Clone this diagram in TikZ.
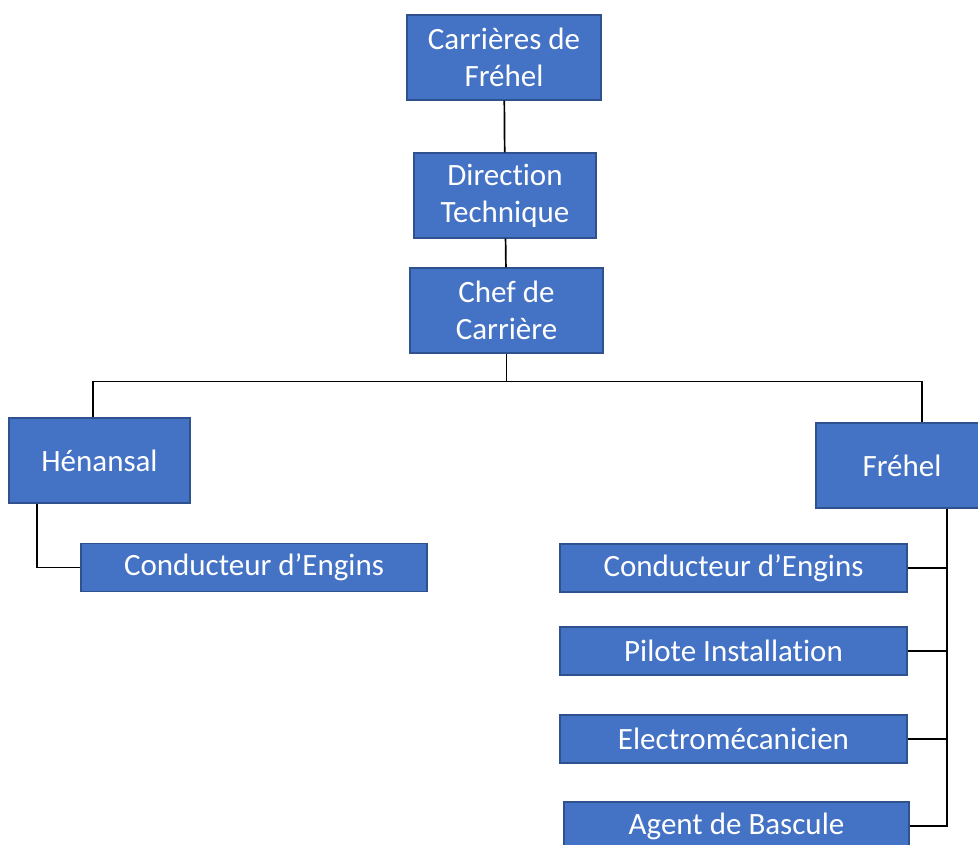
\documentclass[tikz,border=0pt]{standalone}
\usepackage{xcolor}
\usepackage{fontspec}
\setmainfont{Carlito}[Ligatures=NoCommon]
\usepackage{tikz}
\usetikzlibrary{
  arrows.meta,
  positioning,
  calc
}
\definecolor{boxblue}{HTML}{4472C4}
\definecolor{boxedge}{HTML}{2F528F}

\begin{document}
\begin{tikzpicture}[
        x=1pt, y=-1pt,
        box/.style={draw=boxedge, line width=1.2pt, fill=boxblue, text=white,
            font=\fontsize{31}{37}\selectfont, align=center,
            inner sep=0pt, minimum height=85pt},
        poste/.style={box, minimum height=48pt, minimum width=347pt},
        lien/.style={black, line width=1.7pt}
    ]
        \useasboundingbox (0,0) rectangle (978,845);
        % Direction
        \node[box, minimum width=194pt] (carrieres) at (504,57.5) {Carrières de\\Fréhel};
        \node[box, minimum width=182pt] (direction) at (505,195.5) {Direction\\Technique};
        \node[box, minimum width=193pt] (chef) at (506.5,310.5) {Chef de\\Carrière};
        % Sites
        \node[box, minimum width=181pt] (henansal) at (99.5,460.5) {Hénansal};
        \node[box, minimum width=172pt] (frehel) at (902,465.5) {Fréhel};
        % Postes
        \node[poste, minimum width=346pt] (condL) at (254,567.5) {Conducteur d’Engins};
        \node[poste] (condR) at (733.5,568) {Conducteur d’Engins};
        \node[poste] (pilote) at (733.5,651) {Pilote Installation};
        \node[poste] (electro) at (733.5,739) {Electromécanicien};
        \node[poste, minimum width=345pt] (agent) at (736.5,826) {Agent de Bascule};

        % Liens
        \draw[lien] (carrieres) -- (direction);
        \draw[lien] (direction) -- (chef);
        \draw[lien] (chef.south) -- ++(0,28) coordinate (bus);
        \draw[lien] (bus) -| ([xshift=-6.5pt]henansal.north);
        \draw[lien] (bus) -| ([xshift=20pt]frehel.north);
        \draw[lien] ([xshift=-62.5pt]henansal.south) |- (condL.west);
        \draw[lien] ([xshift=45pt]frehel.south) coordinate (dos) |- (agent.east);
        \foreach \p in {condR, pilote, electro}
            \draw[lien] (\p.east) -- (\p.east -| dos);
\end{tikzpicture}
\end{document}
